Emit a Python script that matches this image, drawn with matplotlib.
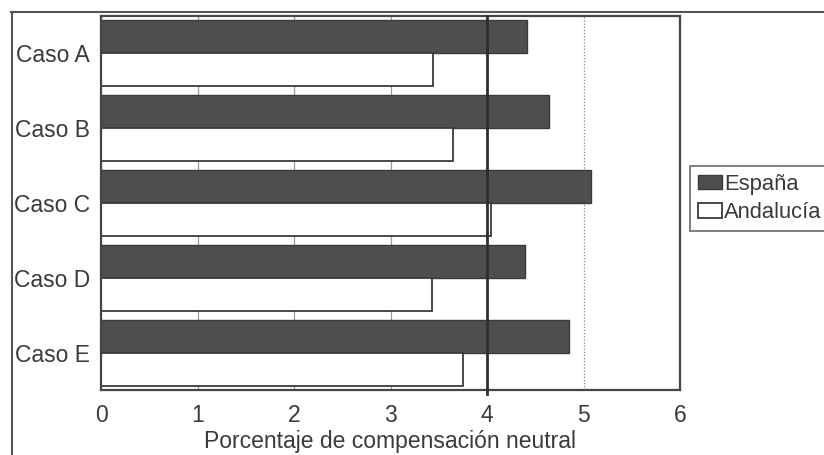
import matplotlib
matplotlib.use("Agg")
import matplotlib.pyplot as plt
import numpy as np
from matplotlib.lines import Line2D

plt.rcParams['font.family'] = ['Liberation Sans', 'DejaVu Sans']

categories = ["Caso A", "Caso B", "Caso C", "Caso D", "Caso E"]
espana = [4.41, 4.64, 5.08, 4.39, 4.85]
andalucia = [3.44, 3.65, 4.04, 3.43, 3.75]
series_names = ["España", "Andalucía"]
xticks = [0, 1, 2, 3, 4, 5, 6]
xlabel = "Porcentaje de compensación neutral"

W, H = 824, 455
fig = plt.figure(figsize=(W / 100, H / 100), dpi=100)
fig.patch.set_facecolor('white')

ax = fig.add_axes([101 / W, 1 - 390 / H, (680 - 101) / W, (390 - 16) / H])

y = np.arange(len(categories))
h = 0.44
dark = '#4e4e4e'
edge = '#3a3a3a'
txt = '#3a3a3a'

# grid lines behind bars
for gx in [1, 2, 3]:
    ax.axvline(gx, color='#9a9a9a', lw=0.9, zorder=0)
ax.axvline(5, color='#888888', lw=0.9, ls=(0, (1, 1.5)), zorder=0)

b1 = ax.barh(y - h / 2, espana, height=h, color=dark, edgecolor=edge, lw=1.0,
             zorder=2, label=series_names[0])
b2 = ax.barh(y + h / 2, andalucia, height=h, color='white', edgecolor=edge, lw=1.3,
             zorder=2, label=series_names[1])

# reference line at 4
ax.plot([4, 4], [-0.5, 4.55], color='#2e2e2e', lw=2.0, zorder=3, clip_on=False)

ax.set_xlim(0, 6)
ax.set_ylim(4.5, -0.5)
ax.set_xticks(xticks)
ax.set_xticklabels([str(t) for t in xticks])
ax.set_yticks(y)
ax.set_yticklabels(categories)
ax.tick_params(axis='both', length=0, colors=txt)
ax.tick_params(axis='x', pad=10, labelsize=16.5)
ax.tick_params(axis='y', pad=8, labelsize=16.5)
ax.set_xlabel(xlabel, fontsize=16.5, color=txt, labelpad=2)
for s in ax.spines.values():
    s.set_color('#444444')
    s.set_linewidth(1.6)

leg = fig.legend(handles=[b1, b2], loc='upper left',
                 bbox_to_anchor=(690 / W, 1 - 166 / H), frameon=True,
                 fontsize=15.8, handlelength=1.1, handleheight=0.65,
                 handletextpad=0.1, borderpad=0.35, labelspacing=0.35,
                 borderaxespad=0, fancybox=False)
leg.get_frame().set_edgecolor('#444444')
leg.get_frame().set_linewidth(1.2)
for t in leg.get_texts():
    t.set_color(txt)

# page border lines
fig.add_artist(Line2D([11 / W, 1.0], [1 - 12 / H, 1 - 12 / H], color='#555555', lw=1.5,
                      transform=fig.transFigure))
fig.add_artist(Line2D([12 / W, 12 / W], [0, 1 - 12 / H], color='#555555', lw=1.5,
                      transform=fig.transFigure))

fig.savefig("out.png", dpi=100, facecolor='white')
